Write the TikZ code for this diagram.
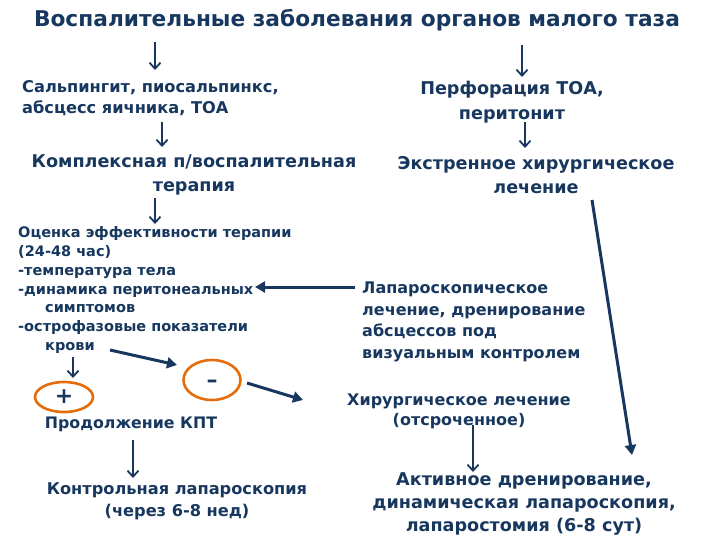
\documentclass[tikz,border=0pt]{standalone}
\usepackage{fontspec}
\setmainfont{DejaVu Sans}
\usetikzlibrary{positioning}
\usetikzlibrary{arrows.meta}
\usetikzlibrary{shapes.geometric}
\definecolor{navy}{RGB}{23,55,94}
\definecolor{ochre}{RGB}{228,108,10}

\begin{document}
\begin{tikzpicture}[x=1pt,y=-1pt,
	label/.style={inner sep=0pt, text=navy, font=\bfseries\fontsize{16}{21}\selectfont},
	varrow/.style={draw=navy, line width=1.8pt, -{Straight Barb[length=6pt,width=11pt]}},
	farrow/.style={draw=navy, line width=3pt, -{Triangle[length=10pt,width=11pt]}},
	sign/.style={ellipse, draw=ochre, line width=2.6pt, inner sep=0pt, text=navy}]

	\useasboundingbox (0,0) rectangle (720,540);
	% Title %
	\node [label, font=\bfseries\fontsize{21.7}{22}\selectfont] (title) at (357,20) {Воспалительные заболевания органов малого таза};
	% Left branch %
	\node [label, anchor=west, align=left, font=\bfseries\fontsize{16.2}{21}\selectfont] (salp) at (22,98) {Сальпингит, пиосальпинкс,\\абсцесс яичника, ТОА};
	\node [label, align=center, font=\bfseries\fontsize{17.6}{24}\selectfont] (kpt) at (194,175) {Комплексная п/воспалительная\\терапия};
	\node [label, anchor=west, align=left, font=\bfseries\fontsize{14.5}{18.8}\selectfont] (eval) at (18,290) {Оценка эффективности терапии\\(24-48 час)\\-температура тела\\-динамика перитонеальных\\\hspace*{27pt}симптомов\\-острофазовые показатели\\\hspace*{27pt}крови};
	% Signs %
	\node [sign, minimum width=58pt, minimum height=30pt, font=\bfseries\fontsize{22}{22}\selectfont] (plus) at (64,397) {+};
	\node [sign, minimum width=57pt, minimum height=40pt, text height=18pt, text depth=4pt, font=\bfseries\fontsize{22}{22}\selectfont] (minus) at (212,380) {–};
	\node [label, font=\bfseries\fontsize{15.8}{20}\selectfont] (cont) at (131,424) {Продолжение КПТ};
	\node [label, align=center, font=\bfseries\fontsize{16.2}{22}\selectfont] (ctrl) at (177,501) {Контрольная лапароскопия\\(через 6-8 нед)};
	% Right branch %
	\node [label, align=center, font=\bfseries\fontsize{17.6}{25}\selectfont] (perf) at (512,102) {Перфорация ТОА,\\перитонит};
	\node [label, align=center, font=\bfseries\fontsize{17.6}{24}\selectfont] (extr) at (536,175) {Экстренное хирургическое\\лечение};
	\node [label, anchor=west, align=left, font=\bfseries\fontsize{16}{21.7}\selectfont] (lap) at (362,322) {Лапароскопическое\\лечение, дренирование\\абсцессов под\\визуальным контролем};
	\node [label, align=center, font=\bfseries\fontsize{16}{20}\selectfont] (hir) at (459,411) {Хирургическое лечение\\(отсроченное)};
	\node [label, align=center, font=\bfseries\fontsize{17.6}{23}\selectfont] (act) at (524,504) {Активное дренирование,\\динамическая лапароскопия,\\лапаростомия (6-8 сут)};

	% Arrow ends %
	\coordinate (titleL) at (155,42);	\coordinate (salpN) at (155,70);
	\coordinate (titleR) at (522,45);	\coordinate (perfN) at (522,77);
	\coordinate (salpS) at (162,122);	\coordinate (kptN) at (162,147);
	\coordinate (perfS) at (525,122);	\coordinate (extrN) at (525,148);
	\coordinate (kptS) at (155,198);	\coordinate (evalN) at (155,224);
	\coordinate (evalS) at (73,357);	\coordinate (plusN) at (73,378);
	\coordinate (contS) at (133,440);	\coordinate (ctrlN) at (133,478);
	\coordinate (hirS) at (473,425);	\coordinate (actN) at (473,472);
	\coordinate (extrS) at (592,200);	\coordinate (actE) at (632,455);
	\coordinate (lapW) at (355,287);	\coordinate (evalE) at (255,287);
	\coordinate (evalSE) at (110,350);	\coordinate (minusW) at (177,365);
	\coordinate (minusE) at (247,383);	\coordinate (hirW) at (303,400);

	% Arrows %
	\draw [varrow] (titleL) -- (salpN);
	\draw [varrow] (titleR) -- (perfN);
	\draw [varrow] (salpS) -- (kptN);
	\draw [varrow] (perfS) -- (extrN);
	\draw [varrow] (kptS) -- (evalN);
	\draw [varrow] (evalS) -- (plusN);
	\draw [varrow] (contS) -- (ctrlN);
	\draw [varrow] (hirS) -- (actN);
	\draw [farrow] (extrS) -- (actE);
	\draw [farrow] (lapW) -- (evalE);
	\draw [farrow] (evalSE) -- (minusW);
	\draw [farrow] (minusE) -- (hirW);
\end{tikzpicture}
\end{document}
